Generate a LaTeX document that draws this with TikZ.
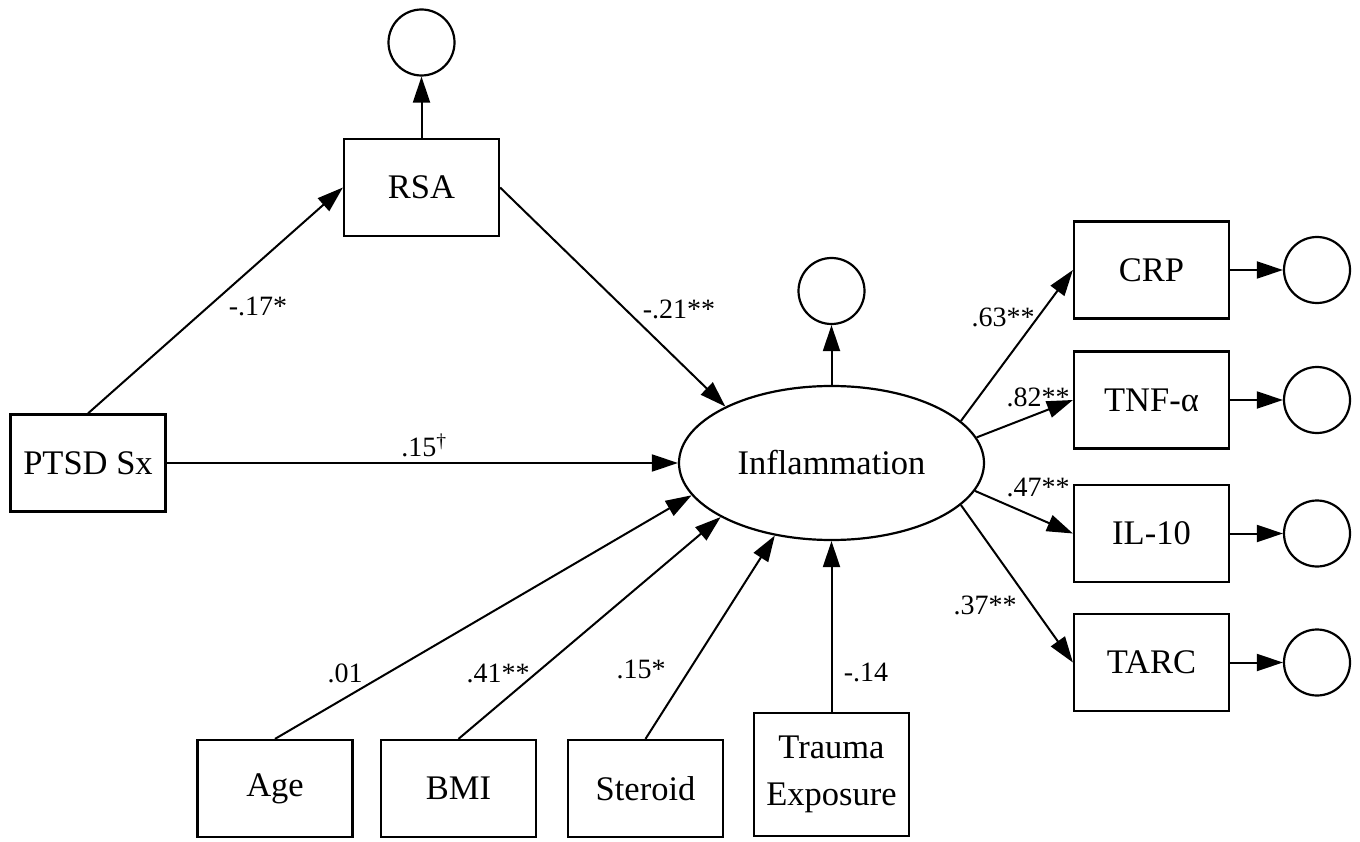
\documentclass[tikz,border=0pt]{standalone}
\usepackage{fontspec}
\setmainfont{Liberation Serif}
\usetikzlibrary{arrows.meta,shapes.geometric}
\begin{document}
\begin{tikzpicture}[x=1pt,y=-1pt,
  box/.style={draw,line width=2.2pt,minimum width=155pt,minimum height=97pt,inner sep=0pt,font=\fontsize{34.5}{47}\selectfont},
  err/.style={draw,circle,line width=2.2pt,minimum size=66pt,inner sep=0pt},
  lat/.style={draw,ellipse,line width=2.2pt,minimum width=305pt,minimum height=154pt,inner sep=0pt,font=\fontsize{34.5}{47}\selectfont},
  arr/.style={line width=2pt,-{Triangle[length=26pt,width=17pt]}},
  coef/.style={font=\fontsize{28}{32}\selectfont,inner sep=0pt}
]
\useasboundingbox (0,0) rectangle (1360,842);
% nodes
\node[err] (ersa) at (421.5,42.5) {};
\node[box] (rsa) at (421.5,187.5) {RSA};
\node[box] (ptsd) at (88,463) {PTSD Sx};
\node[lat] (infl) at (831.5,463) {Inflammation};
\node[err] (einf) at (831.5,291) {};
\node[box] (crp) at (1151.5,270) {CRP};
\node[box] (tnf) at (1151.5,400) {TNF-α};
\node[box] (il) at (1151.5,533.5) {IL-10};
\node[box] (tarc) at (1151.5,662.5) {TARC};
\node[err] (ecrp) at (1317,270) {};
\node[err] (etnf) at (1317,400) {};
\node[err] (eil) at (1317,533.5) {};
\node[err] (etarc) at (1317,662.5) {};
\node[box] (age) at (275,788.5) {Age};
\node[box] (bmi) at (458.5,788.5) {BMI};
\node[box] (ster) at (645.5,788.5) {Steroid};
\node[box,minimum height=123pt,align=center] (trauma) at (831.5,774.5) {Trauma\\Exposure};
% connectors
\draw[arr] (rsa) -- (ersa);
\draw[arr] (ptsd.north) -- (rsa.west);
\draw[arr] (rsa.east) -- (infl.152);
\draw[arr] (ptsd.east) -- (infl.west);
\draw[arr] (infl) -- (einf);
\draw[arr] (infl.18) -- (crp.west);
\draw[arr] (infl.10.5) -- (tnf.west);
\draw[arr] (infl.349.5) -- (il.west);
\draw[arr] (infl.342) -- (tarc.west);
\draw[arr] (crp) -- (ecrp);
\draw[arr] (tnf) -- (etnf);
\draw[arr] (il) -- (eil);
\draw[arr] (tarc) -- (etarc);
\draw[arr] (age.north) -- (infl.193);
\draw[arr] (bmi.north) -- (infl.206);
\draw[arr] (ster.north) -- (infl.232);
\draw[arr] (trauma) -- (infl);
% coefficients
\node[coef] (l1) at (258,306) {-.17*};
\node[coef] (l2) at (679,309) {-.21**};
\node[coef] (l3) at (424,445) {.15\textsuperscript{\textdagger}};
\node[coef] (l4) at (345,673) {.01};
\node[coef] (l5) at (498,673) {.41**};
\node[coef] (l6) at (641,669) {.15*};
\node[coef] (l7) at (866,672) {-.14};
\node[coef] (l8) at (1003,317) {.63**};
\node[coef] (l9) at (1038,397) {.82**};
\node[coef] (l10) at (1038,487) {.47**};
\node[coef] (l11) at (985,605) {.37**};
\end{tikzpicture}
\end{document}
